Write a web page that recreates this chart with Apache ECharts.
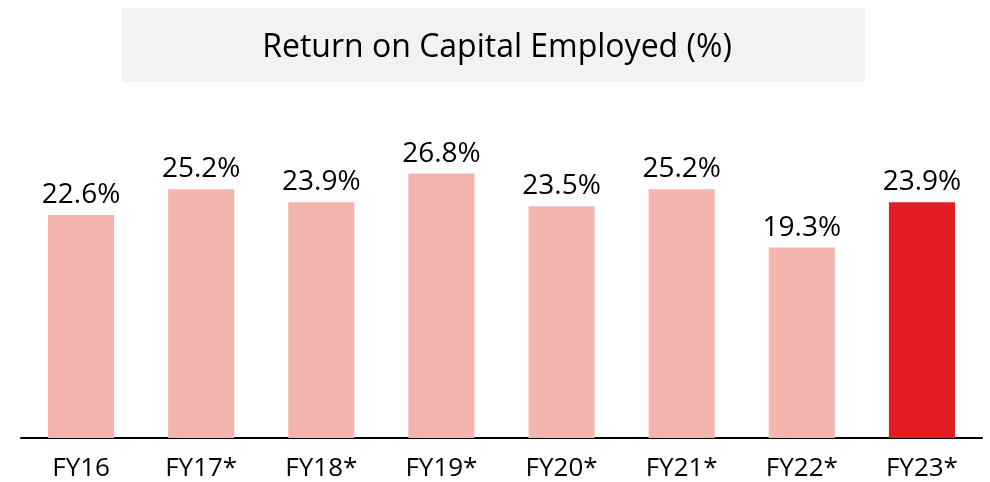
<!DOCTYPE html>
<html><head><meta charset="utf-8">
<script src="https://cdn.jsdelivr.net/npm/echarts@6/dist/echarts.min.js"></script>
<style>html,body{margin:0;padding:0;background:#fff}#c{width:990px;height:482px}</style>
</head><body><div id="c"></div>
<script>
const categories = ['FY16','FY17*','FY18*','FY19*','FY20*','FY21*','FY22*','FY23*'];
const values = [22.6, 25.2, 23.9, 26.8, 23.5, 25.2, 19.3, 23.9];
const titleText = 'Return on Capital Employed (%)';
const FONT = '"Open Sans", sans-serif';
const chart = echarts.init(document.getElementById('c'));
chart.setOption({
  animation: false,
  graphic: [{
    type: 'rect', left: 122, top: 8, shape: {width: 743, height: 74},
    style: {fill: '#f2f2f2'}, z: 0
  }],
  title: {
    text: titleText, left: 492, top: 27, textAlign: 'center',
    textStyle: {fontFamily: FONT, fontSize: 32, fontWeight: 'normal', color: '#000'}
  },
  grid: {left: 21, right: 8, top: 142, bottom: 44},
  xAxis: {
    type: 'category', data: categories,
    axisLine: {lineStyle: {color: '#000', width: 2}},
    axisTick: {show: false},
    axisLabel: {fontFamily: FONT, fontSize: 26, color: '#000', margin: 18}
  },
  yAxis: {type: 'value', min: 0, max: 30, show: false, splitLine: {show: false}},
  series: [{
    type: 'bar', barWidth: '55%',
    data: values.map((v, i) => ({value: v, itemStyle: {color: i === values.length - 1 ? '#e41d25' : '#f4b5ae'}})),
    label: {show: true, position: 'top', distance: 6, formatter: p => p.value.toFixed(1) + '%',
      fontFamily: FONT, fontSize: 28, color: '#000'}
  }]
});
</script></body></html>
